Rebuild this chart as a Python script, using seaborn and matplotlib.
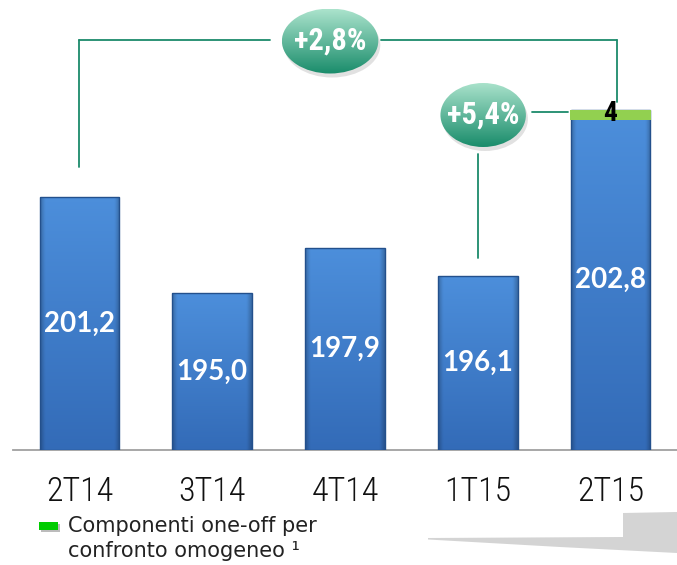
import matplotlib
matplotlib.use("Agg")
import numpy as np
import pandas as pd
import seaborn as sns
import matplotlib.pyplot as plt
from matplotlib.patches import Ellipse, Rectangle, Polygon
from matplotlib import font_manager as fm

# ---------------- data ----------------
categories = ["2T14", "3T14", "4T14", "1T15", "2T15"]
values = [201.2, 195.0, 197.9, 196.1, 202.8]
oneoff = [0, 0, 0, 0, 4]
value_labels = ["201,2", "195,0", "197,9", "196,1", "202,8"]
oneoff_label = "4"
growth_labels = ["+2,8%", "+5,4%"]
legend_lines = ["Componenti one-off per", "confronto omogeneo \u00b9"]

# ---------------- fonts ----------------
avail = {f.name for f in fm.fontManager.ttflist}
def pick(*names):
    for n in names:
        if n in avail:
            return n
    return "DejaVu Sans"
NARROW = pick("Liberation Sans Narrow", "Roboto Condensed", "Open Sans Condensed", "Liberation Sans")
BOLD = pick("Lato", "Open Sans", "DejaVu Sans")
REG = pick("DejaVu Sans")

sns.set_theme(style="white")
plt.rcParams["font.family"] = ["DejaVu Sans"]

W, H = 677, 565
fig = plt.figure(figsize=(W / 100, H / 100), dpi=100)
fig.patch.set_facecolor("white")

# axes geometry (pixels)
AX_L, AX_BASE = 13, 450
PX_PER_CAT = 133.6
PX_PER_UNIT = 15.48
ylo = 184.85
ax = fig.add_axes([AX_L / W, (H - AX_BASE) / H, 1 - AX_L / W, AX_BASE / H])
xlim = (-0.5, -0.5 + (W - AX_L) / PX_PER_CAT)
ylim = (ylo, ylo + AX_BASE / PX_PER_UNIT)

def py2d(py):
    return ylo + (AX_BASE - py) / PX_PER_UNIT

def px2d(px):
    return (px - AX_L) / PX_PER_CAT - 0.5

totals = [v + o for v, o in zip(values, oneoff)]
df = pd.DataFrame({"cat": categories, "total": totals})

BAR_W = 0.6
sns.barplot(data=df, x="cat", y="total", ax=ax, width=BAR_W, color="#3a74c2",
            saturation=1, edgecolor="none", zorder=2)

# gradient fill for bars
for p in list(ax.patches):
    x0, w, top = p.get_x(), p.get_width(), p.get_height()
    nx, ny = 60, 200
    u = np.linspace(0, 1, nx)
    v = np.linspace(0, 1, ny)[:, None]
    edge = np.clip(1 - np.abs(u - 0.5) * 2, 0, 1)
    shade = 0.78 + 0.22 * np.clip(edge / 0.12, 0, 1)
    top_c = np.array([0.30, 0.56, 0.86])
    bot_c = np.array([0.20, 0.42, 0.72])
    col = top_c * (1 - v[..., None]) + bot_c * v[..., None]
    col = col * shade[None, :, None]
    img = ax.imshow(np.broadcast_to(col, (ny, nx, 3)).copy(), extent=[x0, x0 + w, ylo, top],
                    aspect="auto", origin="upper", zorder=3, interpolation="bilinear")
    img.set_clip_path(p)
    ax.add_patch(Rectangle((x0, ylo), w, top - ylo, fill=False, edgecolor="#23508c",
                           lw=1.0, zorder=4))

# one-off cap
cap_h = 10 / PX_PER_UNIT
for i, (t, o) in enumerate(zip(totals, oneoff)):
    if o:
        ax.bar(i, cap_h, bottom=t - cap_h, width=BAR_W + 0.01, color="#92d050",
               edgecolor="none", zorder=5)
        ax.text(i, t - cap_h / 2 + 0.1, oneoff_label, ha="center", va="center",
                fontsize=20, fontweight="bold", family=[NARROW, "DejaVu Sans"],
                color="black", zorder=6)

# value labels
for i, (t, lab) in enumerate(zip(totals, value_labels)):
    ax.text(i, (ylo + t) / 2, lab, ha="center", va="center", color="white",
            fontsize=20, fontweight="bold", family=[BOLD, "DejaVu Sans"], zorder=6)

# brackets
LC = "#1b8a6b"
LW = 1.3
yb = py2d(40)
xr = px2d(621)
bx_big, by_big = px2d(332), py2d(41)
ax.plot([0, 0], [yb, totals[0] + 30 / PX_PER_UNIT], color=LC, lw=LW, zorder=2)
ax.plot([0, px2d(272)], [yb, yb], color=LC, lw=LW, zorder=2)
ax.plot([px2d(383), xr], [yb, yb], color=LC, lw=LW, zorder=2)
ax.plot([xr, xr], [yb, totals[4] + 8 / PX_PER_UNIT], color=LC, lw=LW, zorder=2)

bx_sm, by_sm = px2d(486), py2d(115)
ys = py2d(112)
ax.plot([px2d(535), 4 - BAR_W / 2 - 0.02], [ys, ys], color=LC, lw=LW, zorder=2)
ax.plot([3, 3], [py2d(154), totals[3] + 18 / PX_PER_UNIT], color=LC, lw=LW, zorder=2)

def bubble(cx, cy, wpx, hpx, text):
    w = wpx / PX_PER_CAT
    h = hpx / PX_PER_UNIT
    sh = Ellipse((cx + 2 / PX_PER_CAT, cy - 4 / PX_PER_UNIT), w, h, facecolor="#888888",
                 alpha=0.25, edgecolor="none", zorder=7)
    ax.add_patch(sh)
    e = Ellipse((cx, cy), w, h, facecolor="none", edgecolor="none", zorder=8)
    ax.add_patch(e)
    v = np.linspace(0, 1, 100)[:, None, None]
    c_top = np.array([0.67, 0.89, 0.80])
    c_bot = np.array([0.10, 0.55, 0.42])
    col = c_top * (1 - v) + c_bot * v
    col = np.broadcast_to(col, (100, 10, 3)).copy()
    im = ax.imshow(col, extent=[cx - w / 2, cx + w / 2, cy - h / 2, cy + h / 2],
                   aspect="auto", origin="upper", zorder=8, interpolation="bilinear")
    im.set_clip_path(e)
    ax.text(cx, cy, text, ha="center", va="center", color="white", fontsize=22,
            fontweight="bold", family=[NARROW, "DejaVu Sans"], zorder=9)

bubble(bx_big, by_big, 97, 65, growth_labels[0])
bubble(bx_sm, by_sm, 86, 64, growth_labels[1])

ax.set_xlim(*xlim)
ax.set_ylim(*ylim)

# axis styling
for s in ["top", "right", "left"]:
    ax.spines[s].set_visible(False)
ax.spines["bottom"].set_color("#a0a0a0")
ax.spines["bottom"].set_linewidth(1.3)
ax.set_yticks([])
ax.set_xlabel("")
ax.set_ylabel("")
ax.set_xticks(range(len(categories)))
ax.set_xticklabels(categories, fontsize=24.5, family=[NARROW, "DejaVu Sans"],
                   fontweight="light", color="#111111")
ax.tick_params(axis="x", which="major", length=0, pad=19)
ax.set_xticks(np.arange(-0.5, len(categories), 1.0), minor=True)
ax.tick_params(axis="x", which="minor", length=8, width=1.2, color="#a0a0a0", direction="out")

# decorative grey wedge (bottom right)
pts = np.array([(428, 538), (623, 537), (623, 513), (677, 512), (677, 553),
                (560, 547), (428, 539.5)], float)
pts[:, 0] /= W
pts[:, 1] = 1 - pts[:, 1] / H
fig.patches.append(Polygon(pts, closed=True, transform=fig.transFigure,
                           facecolor="#d4d4d4", edgecolor="none", zorder=0))

# legend
fig.patches.append(Rectangle((41 / W, 1 - 532 / H), 19 / W, 8 / H, transform=fig.transFigure,
                             facecolor="#7a7a7a", alpha=0.5, edgecolor="none", zorder=1))
fig.patches.append(Rectangle((39 / W, 1 - 530 / H), 19 / W, 8 / H, transform=fig.transFigure,
                             facecolor="#00cc00", edgecolor="none", zorder=2))
fig.text(68 / W, 1 - 526 / H, legend_lines[0], fontsize=15, family=[REG], color="#222222",
         va="center", ha="left")
fig.text(68 / W, 1 - 551 / H, legend_lines[1], fontsize=15, family=[REG], color="#222222",
         va="center", ha="left")

fig.savefig("out.png", dpi=100, facecolor="white")
